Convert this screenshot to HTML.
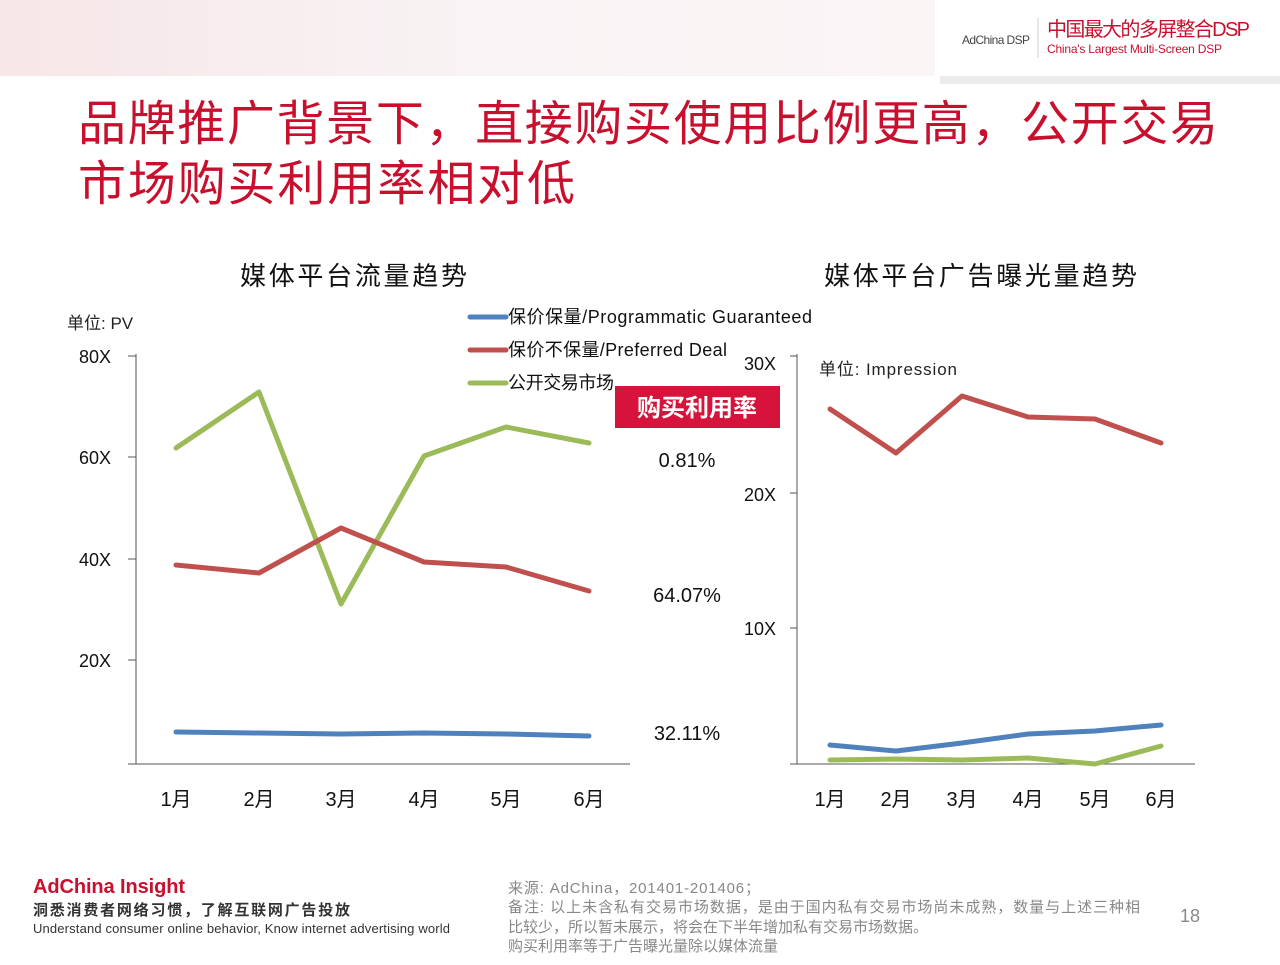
<!DOCTYPE html><html><head><meta charset="utf-8"><style>
body{margin:0;width:1280px;height:960px;background:#fff;overflow:hidden;font-family:"Liberation Sans","Noto Sans CJK SC",sans-serif;}
</style></head><body>
<svg width="1280" height="960" xmlns="http://www.w3.org/2000/svg" font-family="Liberation Sans, Noto Sans CJK SC, sans-serif">
<defs><linearGradient id="hg" x1="0" x2="1"><stop offset="0" stop-color="#f7e6e8"/><stop offset="0.5" stop-color="#f8f3f4"/><stop offset="1" stop-color="#fbf5f6"/></linearGradient></defs>
<rect x="0" y="0" width="940" height="76" fill="url(#hg)"/>
<rect x="935" y="0" width="345" height="78" fill="#fff"/>
<rect x="940" y="76" width="340" height="8" fill="#ddd" opacity="0.6"/>
<text x="962" y="44" font-size="12" fill="#444" textLength="68">AdChina DSP</text>
<line x1="1038" y1="18" x2="1038" y2="58" stroke="#ccc"/>
<text x="1047" y="36" font-size="20" fill="#c8102e" textLength="203">中国最大的多屏整合DSP</text>
<text x="1047" y="53" font-size="12" fill="#c8102e" textLength="175">China's Largest Multi-Screen DSP</text>
<text x="78" y="140" font-size="48" fill="#c8102e" textLength="1140">品牌推广背景下，直接购买使用比例更高，公开交易</text>
<text x="78" y="200" font-size="48" fill="#c8102e" textLength="497">市场购买利用率相对低</text>
<text x="240" y="285" font-size="26" fill="#111" textLength="227">媒体平台流量趋势</text>
<text x="824" y="285" font-size="26" fill="#111" textLength="313">媒体平台广告曝光量趋势</text>
<text x="67" y="329" font-size="17" fill="#222">单位: PV</text>
<text x="819" y="375" font-size="17" fill="#222" textLength="138">单位: Impression</text>
<g font-size="18" fill="#111">
<text x="79" y="363">80X</text><text x="79" y="464">60X</text><text x="79" y="566">40X</text><text x="79" y="667">20X</text>
<text x="744" y="370">30X</text><text x="744" y="501">20X</text><text x="744" y="635">10X</text>
</g>
<g stroke="#555" stroke-width="1">
<line x1="136" y1="354" x2="136" y2="764"/><line x1="128" y1="764" x2="630" y2="764"/>
<line x1="128" y1="356" x2="136" y2="356"/><line x1="128" y1="457" x2="136" y2="457"/><line x1="128" y1="559" x2="136" y2="559"/><line x1="128" y1="660" x2="136" y2="660"/>
<line x1="797" y1="354" x2="797" y2="764"/><line x1="790" y1="764" x2="1195" y2="764"/>
<line x1="790" y1="356" x2="797" y2="356"/><line x1="790" y1="493" x2="797" y2="493"/><line x1="790" y1="628" x2="797" y2="628"/>
</g>
<g fill="none" stroke-width="5" stroke-linejoin="round" stroke-linecap="round">
<polyline stroke="#9bbb59" points="176,448 259,392 341,604 424,456 506,427 589,443"/>
<polyline stroke="#c0504d" points="176,565 259,573 341,528 424,562 506,567 589,591"/>
<polyline stroke="#4f81bd" points="176,732 259,733 341,734 424,733 506,734 589,736"/>
<polyline stroke="#c0504d" points="830,409 896,453 962,396 1028,417 1095,419 1161,443"/>
<polyline stroke="#4f81bd" points="830,745 896,751 962,743 1028,734 1095,731 1161,725"/>
<polyline stroke="#9bbb59" points="830,760 896,759 962,760 1028,758 1095,764 1161,746"/>
<line x1="470" y1="317" x2="506" y2="317" stroke="#4f81bd"/>
<line x1="470" y1="350" x2="506" y2="350" stroke="#c0504d"/>
<line x1="470" y1="383" x2="506" y2="383" stroke="#9bbb59"/>
</g>
<g font-size="18" fill="#111">
<text x="508" y="323" textLength="304">保价保量/Programmatic Guaranteed</text>
<text x="508" y="356" textLength="219">保价不保量/Preferred Deal</text>
<text x="508" y="389" textLength="106">公开交易市场</text>
</g>
<rect x="615" y="386" width="165" height="42" fill="#d6133a"/>
<text x="697" y="416" font-size="24" font-weight="bold" fill="#fff" text-anchor="middle">购买利用率</text>
<g font-size="20" fill="#111" text-anchor="middle">
<text x="687" y="467">0.81%</text><text x="687" y="602">64.07%</text><text x="687" y="740">32.11%</text>
</g>
<g font-size="20" fill="#111" text-anchor="middle">
<text x="176" y="806">1月</text><text x="259" y="806">2月</text><text x="341" y="806">3月</text><text x="424" y="806">4月</text><text x="506" y="806">5月</text><text x="589" y="806">6月</text>
<text x="830" y="806">1月</text><text x="896" y="806">2月</text><text x="962" y="806">3月</text><text x="1028" y="806">4月</text><text x="1095" y="806">5月</text><text x="1161" y="806">6月</text>
</g>
<text x="33" y="893" font-size="20" font-weight="bold" fill="#c8102e" textLength="152">AdChina Insight</text>
<text x="33" y="915" font-size="15" font-weight="bold" fill="#333" textLength="317">洞悉消费者网络习惯，了解互联网广告投放</text>
<text x="33" y="933" font-size="13" fill="#333" textLength="417">Understand consumer online behavior, Know internet advertising world</text>
<g font-size="15" fill="#888">
<text x="508" y="893" textLength="252">来源: AdChina，201401-201406；</text>
<text x="508" y="912" textLength="632">备注: 以上未含私有交易市场数据，是由于国内私有交易市场尚未成熟，数量与上述三种相</text>
<text x="508" y="932">比较少，所以暂未展示，将会在下半年增加私有交易市场数据。</text>
<text x="508" y="951">购买利用率等于广告曝光量除以媒体流量</text>
</g>
<text x="1180" y="922" font-size="18" fill="#888">18</text>
</svg>
</body></html>
